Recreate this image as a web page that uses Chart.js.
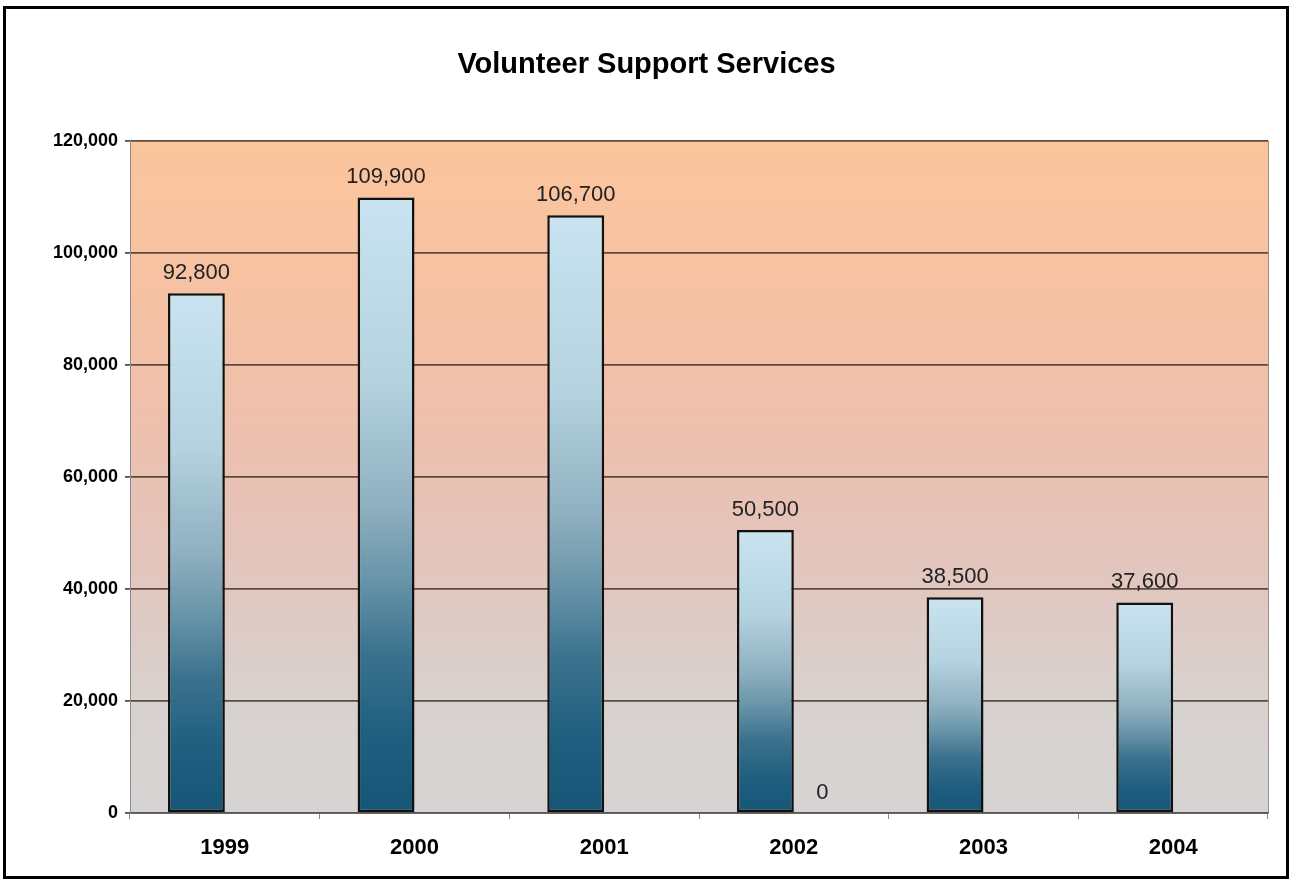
<!DOCTYPE html>
<html>
<head>
<meta charset="utf-8">
<title>Volunteer Support Services</title>
<script src="https://cdn.jsdelivr.net/npm/chart.js@4/dist/chart.umd.min.js"></script>
<style>
    html, body { margin: 0; padding: 0; background: #fff; }
    #wrap { position: relative; width: 1293px; height: 880px; }
    #frame {
        position: absolute; left: 3px; top: 6px; width: 1286px; height: 873px;
        box-sizing: border-box; border: 3px solid #000; pointer-events: none;
    }
</style>
</head>
<body>
<div id="wrap">
    <canvas id="servicesChart" width="1293" height="880"></canvas>
    <div id="frame"></div>
</div>
<script>
const years = ['1999', '2000', '2001', '2002', '2003', '2004'];
const services = [92800, 109900, 106700, 50500, 38500, 37600];
const secondSeries = [null, null, null, 0, null, null];
const yMax = 120000;
const yStep = 20000;

const fontFamily = '"Liberation Sans", Arial, sans-serif';

function fmt(v) {
    return Number(v).toLocaleString('en-US');
}

// Each bar gets its own light-to-dark gradient from its top down to the axis
function barFill(ctx) {
    const chart = ctx.chart;
    if (!chart.chartArea || ctx.type !== 'data' || ctx.raw == null) return '#7fa7b8';
    const y = chart.scales.y;
    const top = y.getPixelForValue(ctx.raw);
    const base = y.getPixelForValue(0);
    if (base - top < 1) return '#7fa7b8';
    const g = chart.ctx.createLinearGradient(0, top, 0, base);
    g.addColorStop(0, '#c9e4f0');
    g.addColorStop(0.3, '#b4d2df');
    g.addColorStop(0.5, '#8fb0c0');
    g.addColorStop(0.62, '#6894a9');
    g.addColorStop(0.74, '#3b728e');
    g.addColorStop(0.87, '#205f7f');
    g.addColorStop(1, '#155575');
    return g;
}

// Peach-to-grey fill behind the plot
const plotBackground = {
    id: 'plotBackground',
    beforeDraw(chart) {
        const { ctx, chartArea: a } = chart;
        ctx.save();
        ctx.fillStyle = '#fff';
        ctx.fillRect(0, 0, chart.width, chart.height);
        const g = ctx.createLinearGradient(0, a.top, 0, a.bottom);
        g.addColorStop(0, '#fac59c');
        g.addColorStop(0.2, '#f7c2a2');
        g.addColorStop(0.4, '#efc0ac');
        g.addColorStop(0.55, '#e7c2b7');
        g.addColorStop(0.7, '#dfc9c3');
        g.addColorStop(0.84, '#d8d2cf');
        g.addColorStop(1, '#d6d4d3');
        ctx.fillStyle = g;
        ctx.fillRect(a.left, a.top, a.width, a.height);
        ctx.strokeStyle = '#9a8f88';
        ctx.lineWidth = 1;
        ctx.beginPath();
        ctx.moveTo(a.right + 0.5, a.top);
        ctx.lineTo(a.right + 0.5, a.bottom);
        ctx.stroke();
        ctx.restore();
    }
};

// Value above every bar
const valueLabels = {
    id: 'valueLabels',
    afterDatasetsDraw(chart) {
        const ctx = chart.ctx;
        ctx.save();
        ctx.font = '22px ' + fontFamily;
        ctx.fillStyle = '#222';
        ctx.textAlign = 'center';
        ctx.textBaseline = 'alphabetic';
        chart.data.datasets.forEach((ds, i) => {
            const meta = chart.getDatasetMeta(i);
            meta.data.forEach((bar, j) => {
                const v = ds.data[j];
                if (v == null) return;
                ctx.fillText(fmt(v), bar.x, bar.y - 14);
            });
        });
        ctx.restore();
    }
};

new Chart(document.getElementById('servicesChart'), {
    type: 'bar',
    data: {
        labels: years,
        datasets: [
            {
                label: 'Services',
                data: services,
                backgroundColor: barFill,
                borderColor: '#111',
                borderWidth: 2.5,
                borderSkipped: false,
                barPercentage: 1,
                categoryPercentage: 0.6
            },
            {
                label: 'Other',
                data: secondSeries,
                backgroundColor: '#7fa7b8',
                borderWidth: 0,
                barPercentage: 1,
                categoryPercentage: 0.6
            }
        ]
    },
    options: {
        responsive: false,
        animation: false,
        layout: { padding: 0 },
        plugins: {
            legend: { display: false },
            tooltip: { enabled: false },
            title: {
                display: true,
                text: 'Volunteer Support Services',
                color: '#000',
                font: { family: fontFamily, size: 29, weight: 'bold' },
                padding: { top: 48, bottom: 58 }
            }
        },
        scales: {
            x: {
                afterFit: s => { s.height = 67; },
                grid: { display: true, drawOnChartArea: false, drawTicks: true, tickLength: 6, color: '#8a8a8a', offset: true },
                border: { display: true, color: '#555', width: 1.5 },
                ticks: { color: '#000', padding: 16, font: { family: fontFamily, size: 22, weight: 'bold' } }
            },
            y: {
                min: 0,
                max: yMax,
                afterFit: s => { s.width = 130; },
                grid: { color: 'rgba(78,60,48,0.9)', lineWidth: 1.8, tickLength: 5 },
                border: { display: true, color: '#8a8a8a', width: 1 },
                ticks: {
                    stepSize: yStep,
                    color: '#000',
                    padding: 7,
                    font: { family: fontFamily, size: 18, weight: 'bold' },
                    callback: v => fmt(v)
                }
            },
            // empty strip on the right, keeps the plot clear of the frame
            spacer: {
                type: 'linear',
                position: 'right',
                afterFit: s => { s.width = 25; },
                grid: { display: false },
                border: { display: false },
                ticks: { display: false }
            }
        }
    },
    plugins: [plotBackground, valueLabels]
});
</script>
</body>
</html>
